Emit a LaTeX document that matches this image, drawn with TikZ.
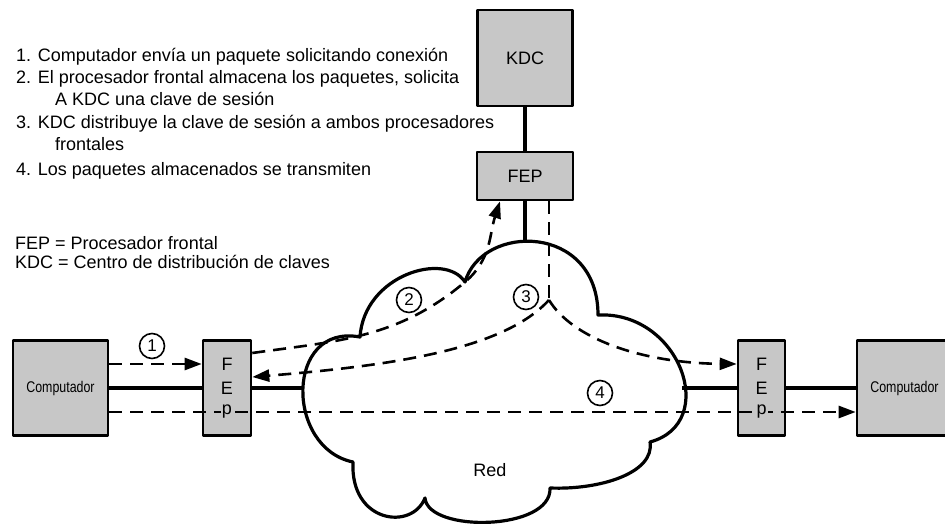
\documentclass[tikz,border=0pt]{standalone}
\usepackage{graphicx}
\usepackage{fontspec}
\setmainfont{Liberation Sans}
\usetikzlibrary{arrows.meta}

\begin{document}
\begin{tikzpicture}[x=1pt,y=1pt,>={Triangle[length=17pt,width=12pt]},line join=round,
  caja/.style={draw,line width=2.6pt,fill=black!22,inner sep=0pt,font=\fontsize{18}{20}\selectfont},
  letra/.style={font=\fontsize{18}{20}\selectfont,inner sep=1pt},
  paso/.style={draw,circle,line width=1.6pt,minimum size=25pt,inner sep=0pt,font=\fontsize{17}{17}\selectfont},
  texto/.style={font=\fontsize{18}{20}\selectfont,anchor=base west,inner sep=0pt},
  enlace/.style={line width=4pt},
  flujo/.style={line width=2.6pt,dash pattern=on 13pt off 8pt}]
\useasboundingbox (0,0) rectangle (945,523);
\foreach \n/\x/\y/\t in {linea1/16/461/{1. Computador envía un paquete solicitando conexión},
  linea2/16/439.5/{2. El procesador frontal almacena los paquetes, solicita},
  linea2b/55/417/{A KDC una clave de sesión},
  linea3/16/394/{3. KDC distribuye la clave de sesión a ambos procesadores},
  linea3b/55/372/{frontales},
  linea4/16/347.5/{4. Los paquetes almacenados se transmiten},
  leyFEP/15/273.5/{FEP = Procesador frontal},
  leyKDC/15/254.5/{KDC = Centro de distribución de claves}}
  \node[texto] (\n) at (\x,\y) {\t};
\coordinate (c1) at (360,186);
\coordinate (c2) at (465,241);
\coordinate (c3) at (598,208);
\coordinate (c4) at (650,81);
\coordinate (c5) at (550,35);
\coordinate (c6) at (425,25);
\coordinate (c7) at (353,61);
\draw[line width=3.2pt] (c1) .. controls (364,248) and (445,272) .. (c2)
  .. controls (482,300) and (598,300) .. (c3)
  .. controls (680,212) and (720,100) .. (c4)
  .. controls (655,50) and (600,33) .. (c5)
  .. controls (552,-8) and (428,-10) .. (c6)
  .. controls (412,-8) and (350,0) .. (c7)
  .. controls (285,75) and (285,200) .. cycle;
\node[letra] (red) at (490,53) {Red};
\node[caja,minimum width=95pt,minimum height=96pt] (kdc) at (525,465) {KDC};
\node[caja,minimum width=96pt,minimum height=48pt] (fep) at (525,347) {FEP};
\node[caja,minimum width=95pt,minimum height=95pt] (compL) at (60.5,135) {\fontsize{15.5}{16}\selectfont\scalebox{0.8}[1]{Computador}};
\node[caja,minimum width=48pt,minimum height=95pt] (fepL) at (227,135) {};
\node[caja,minimum width=47pt,minimum height=95pt] (fepR) at (761.5,135) {};
\node[caja,minimum width=95pt,minimum height=95pt] (compR) at (904.5,135) {\fontsize{15.5}{16}\selectfont\scalebox{0.8}[1]{Computador}};
\foreach \c in {fepL,fepR} {
  \node[letra] (\c F) at ([yshift=24pt]\c.center) {F};
  \node[letra] (\c E) at (\c.center) {E};
}
\coordinate (nubeN) at (525,283);
\coordinate (nubeO) at (303,135);
\coordinate (nubeE) at (682,135);
\coordinate (cruce) at (549,223);
\draw[enlace] (kdc) -- (fep);
\draw[enlace] (fep.south) -- (nubeN);
\draw[enlace] (compL) -- (fepL);
\draw[enlace] (fepL) -- (nubeO);
\draw[enlace] (nubeE) -- (fepR);
\draw[enlace] (fepR) -- (compR);
\draw[flujo,->] ([yshift=24pt]compL.east) -- ([yshift=24pt]fepL.west);
\draw[flujo,->] ([yshift=-24pt]compL.east) -- ([yshift=-24pt]compR.west);
\draw[flujo,->] ([yshift=35pt]fepL.east) to[out=8,in=220] (c2) to[out=40,in=252] ([xshift=-25pt]fep.south);
\draw[flujo] ([xshift=24pt]fep.south) -- (cruce);
\draw[flujo,->] (cruce) .. controls (505,175) and (400,158) .. ([yshift=11pt]fepL.east);
\draw[flujo,->] (cruce) .. controls (572,185) and (640,160) .. ([yshift=24pt]fepR.west);
\foreach \c in {fepL,fepR}
  \node[letra,fill=black!22] (\c p) at ([yshift=-24pt]\c.center) {p};
\foreach \n/\x/\y in {1/152/177,2/409/223,3/526/226,4/600/130}
  \node[paso] (paso\n) at (\x,\y) {\n};
\end{tikzpicture}
\end{document}
